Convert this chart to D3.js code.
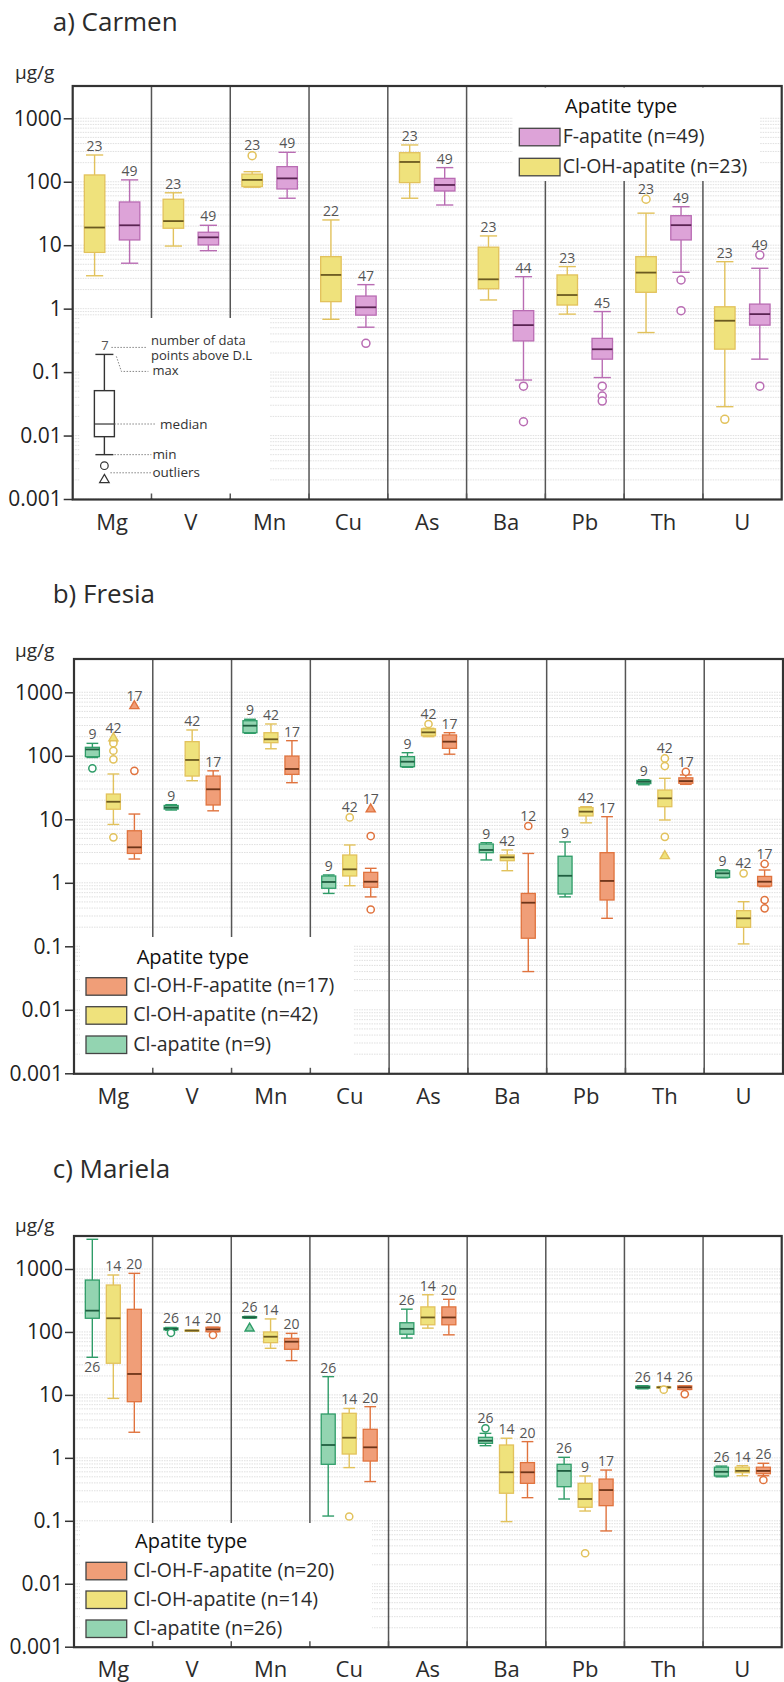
<!DOCTYPE html>
<html>
<head>
<meta charset="utf-8">
<script src="https://cdn.jsdelivr.net/npm/d3@7"></script>
<style>
body{margin:0;background:#fff;}
svg text{font-family:"Open Sans",sans-serif;}
</style>
</head>
<body>
<svg id="chart" width="784" height="1682"></svg>
<script>
let elements = ["Mg","V","Mn","Cu","As","Ba","Pb","Th","U"];
let yTicks = [0.001,0.01,0.1,1,10,100,1000];
let yTickLabels = ["0.001","0.01","0.1","1","10","100","1000"];

// every box is [min, q1, median, q3, max], one per element

// a) Carmen
let carmenClOH = [[3.3,7.7,19,128,264],[9.7,18.5,24,53,67],[82,84,107,132,144],[0.68,1.29,3.4,6.6,25],[55,97,205,287,380],[1.37,2.06,2.9,9.3,14],[0.82,1.14,1.64,3.4,4.6],[0.42,1.81,3.7,6.6,32],[0.0285,0.23,0.645,1.07,5.5]];
let carmenClOHn = [23,23,23,22,23,23,23,23,23];
let carmenClOHcirc = [[],[],[258],[],[],[],[],[53],[0.018]];
let carmenClOHtri = [[],[],[],[],[],[],[],[],[]];

let carmenF = [[5.2,12.1,20.6,48,107],[8.2,10.1,13.3,16,20.6],[55,77,113,173,291],[0.51,0.79,1.05,1.58,2.39],[43,71.5,89,113,167],[0.075,0.31,0.55,0.93,3.19],[0.082,0.16,0.229,0.34,0.9],[3.74,12.1,20.7,29.2,40.4],[0.16,0.55,0.82,1.18,4.33]];
let carmenFn = [49,49,49,47,49,44,45,49,49];
let carmenFcirc = [[],[],[],[0.284],[],[0.06,0.0165],[0.06,0.042,0.035],[2.83,0.93],[7.0,0.06]];
let carmenFtri = [[],[],[],[],[],[],[],[],[]];

// b) Fresia
let fresiaCl = [[94,96.8,126,136,157],[14,14.5,15.3,16.5,17],[226,231,298,357,376],[0.68,0.82,1.03,1.28,1.33],[66,67.4,80.7,97,112],[2.29,2.98,3.29,4.08,4.28],[0.6,0.667,1.29,2.62,4.4],[35,36.5,39,41,42],[1.2,1.22,1.41,1.55,1.6]];
let fresiaCln = [9,9,9,9,9,9,9,9,9];
let fresiaClcirc = [[63.5],[],[],[],[],[],[],[],[]];
let fresiaCltri = [[],[],[],[],[],[],[],[],[]];

let fresiaClOH = [[8.3,14.4,18.9,25,51.7],[40.5,48,86,167,255],[129,161,182,231,317],[0.9,1.28,1.63,2.74,3.94],[200,207,234,266,271],[1.55,2.23,2.52,2.74,3.29],[8.8,11.3,13.2,15.3,15.8],[9.75,15.8,21.4,28.9,44.2],[0.109,0.199,0.276,0.364,0.504]];
let fresiaClOHn = [42,42,42,42,42,42,42,42,42];
let fresiaClOHcirc = [[170,158,120,88,5.2],[],[],[10.7],[317],[],[],[91,69,5.3],[1.41]];
let fresiaClOHtri = [[190],[],[],[],[],[],[],[2.64],[]];

let fresiaClOHF = [[2.37,2.9,3.62,6.6,12.1],[13.6,16.8,29.7,48,58],[37.7,51,62,99,173],[0.6,0.85,1.04,1.46,1.69],[106,131,167,213,231],[0.04,0.134,0.486,0.68,2.9],[0.276,0.536,1.07,2.98,11],[35.5,37,40,45,50],[0.87,0.89,1.04,1.26,1.59]];
let fresiaClOHFn = [17,17,17,17,17,12,17,17,17];
let fresiaClOHFcirc = [[58],[],[],[5.45,0.38],[],[7.84],[],[56],[1.98,0.536,0.396]];
let fresiaClOHFtri = [[608],[],[],[14.4],[],[],[],[],[]];

// c) Mariela
let marielaCl = [[39.6,165,218,668,2965],[106,108,112,116,118],[165,167,171,175,177],[0.119,0.79,1.6,4.97,19.5],[80,92,112,140,230],[1.56,1.70,1.87,2.12,2.45],[0.222,0.348,0.62,0.79,1.02],[12.5,12.8,13.2,13.8,14],[0.5,0.515,0.6,0.71,0.74]];
let marielaCln = [26,26,26,26,26,26,26,26,26];
let marielaClcirc = [[],[97],[],[],[],[2.94],[],[],[]];
let marielaCltri = [[],[],[114],[],[],[],[],[],[]];

let marielaClOH = [[8.8,31.8,165,557,803],[103,103,105,107,107],[55,67.6,84,100,161],[0.7,1.15,2.09,5.1,6.1],[115,130,170,250,390],[0.097,0.274,0.59,1.6,2.05],[0.143,0.164,0.222,0.394,0.515],[12.8,13,13.2,13.4,13.6],[0.52,0.58,0.62,0.71,0.75]];
let marielaClOHn = [14,14,14,14,14,14,9,14,14];
let marielaClOHcirc = [[],[],[],[0.117],[],[],[0.0305],[12.1],[]];
let marielaClOHtri = [[],[],[],[],[],[],[],[],[]];

let marielaClOHF = [[2.55,7.8,21.5,229,853],[101,101,110,118.6,118.6],[35,53,70,79,95],[0.42,0.89,1.47,2.84,6.5],[90,130,170,250,330],[0.233,0.394,0.59,0.84,1.81],[0.069,0.174,0.308,0.46,0.64],[12.2,12.2,13.2,13.9,13.9],[0.52,0.56,0.62,0.71,0.82]];
let marielaClOHFn = [20,20,20,20,20,20,17,26,26];
let marielaClOHFcirc = [[],[89.5],[],[],[],[],[],[10.3],[0.445]];
let marielaClOHFtri = [[],[],[],[],[],[],[],[],[]];

// legend explanation box (drawn in axis units)
let legendExample = [0.005,0.0096,0.0152,0.051,0.19];
let legendOutliers = [0.00335];
let legendTri = [0.002];

let yellow = {fill:"#efe27c", line:"#e2c25c", med:"#6b5a20"};
let pink = {fill:"#dda3d8", line:"#b96cb3", med:"#5a2453"};
let green = {fill:"#93d4b1", line:"#2f9c68", med:"#1f5e40"};
let orange = {fill:"#f09e78", line:"#e0733e", med:"#6e3418"};

let svg = d3.select("#chart");

let panels = [
  {
    title:"a) Carmen", titleY:31, unitY:79,
    left:72.7, right:781.7, top:86, bottom:499.5, yLow:499, yHigh:118.3,
    series:[
      {name:"Cl-OH-apatite (n=23)", stats:carmenClOH, n:carmenClOHn, circ:carmenClOHcirc, tri:carmenClOHtri, col:yellow},
      {name:"F-apatite (n=49)", stats:carmenF, n:carmenFn, circ:carmenFcirc, tri:carmenFtri, col:pink}
    ],
    blanks:[{x0:80,x1:270,y0:318,y1:498},{x0:513,x1:760,y0:87.5,y1:181}],
    legend:{x:519.3, titleX:565, titleY:113.3, rows:[128.3,158.3], textX:562.7, order:[1,0]}
  },
  {
    title:"b) Fresia", titleY:603.3, unitY:657,
    left:74, right:783, top:659, bottom:1073.8, yLow:1073.3, yHigh:692.3,
    series:[
      {name:"Cl-apatite (n=9)", stats:fresiaCl, n:fresiaCln, circ:fresiaClcirc, tri:fresiaCltri, col:green},
      {name:"Cl-OH-apatite (n=42)", stats:fresiaClOH, n:fresiaClOHn, circ:fresiaClOHcirc, tri:fresiaClOHtri, col:yellow},
      {name:"Cl-OH-F-apatite (n=17)", stats:fresiaClOHF, n:fresiaClOHFn, circ:fresiaClOHFcirc, tri:fresiaClOHFtri, col:orange}
    ],
    blanks:[{x0:80,x1:353,y0:937,y1:1072.5}],
    legend:{x:86, titleX:136.7, titleY:964, rows:[977.7,1006.7,1036], textX:133.3, order:[2,1,0]}
  },
  {
    title:"c) Mariela", titleY:1178.3, unitY:1232,
    left:74, right:781.7, top:1236, bottom:1647.2, yLow:1646.7, yHigh:1269,
    series:[
      {name:"Cl-apatite (n=26)", stats:marielaCl, n:marielaCln, circ:marielaClcirc, tri:marielaCltri, col:green},
      {name:"Cl-OH-apatite (n=14)", stats:marielaClOH, n:marielaClOHn, circ:marielaClOHcirc, tri:marielaClOHtri, col:yellow},
      {name:"Cl-OH-F-apatite (n=20)", stats:marielaClOHF, n:marielaClOHFn, circ:marielaClOHFcirc, tri:marielaClOHFtri, col:orange}
    ],
    blanks:[{x0:80,x1:372,y0:1523,y1:1646}],
    legend:{x:86, titleX:135, titleY:1547.7, rows:[1562.3,1591,1620], textX:133.3, order:[2,1,0]}
  }
];

panels.forEach(drawPanel);

function drawPanel(p, pi){
  let g = svg.append("g");
  let x = d3.scaleBand().domain(elements).range([p.left, p.right]);
  let y = d3.scaleLog().domain([0.001,1000]).range([p.yLow, p.yHigh]);
  let two = p.series.length == 2;
  let off = d3.scalePoint().domain(p.series.map(s => s.name)).range(two ? [-17.5,17.5] : [-21,21]);
  let bw = two ? 20.5 : 14;

  // title and unit
  g.append("text").attr("x", 52.7).attr("y", p.titleY)
    .attr("font-size", 26).attr("fill", "#2b2b2b").text(p.title);
  g.append("text").attr("x", 15).attr("y", p.unitY)
    .attr("font-size", 19).attr("fill", "#2b2b2b").text("µg/g");

  // dotted minor grid
  let grid = [];
  for(let e = -3; e < 3; e++){
    for(let m = 1; m < 10; m++) grid.push(m * Math.pow(10, e));
  }
  grid.push(1000);
  g.selectAll(".grid").data(grid).enter().append("line")
    .attr("x1", p.left).attr("x2", p.right)
    .attr("y1", d => y(d)).attr("y2", d => y(d))
    .attr("stroke", "#d2d2d2").attr("stroke-width", 0.7)
    .attr("stroke-dasharray", "1.5,1");

  // separators between elements
  let seps = elements.slice(1);
  g.selectAll(".sep").data(seps).enter().append("line")
    .attr("x1", d => x(d)).attr("x2", d => x(d))
    .attr("y1", p.top).attr("y2", p.bottom)
    .attr("stroke", "#555").attr("stroke-width", 1.5);

  // white areas behind the legends
  p.blanks.forEach(b => {
    g.append("rect").attr("x", b.x0).attr("y", b.y0)
      .attr("width", b.x1 - b.x0).attr("height", b.y1 - b.y0)
      .attr("fill", "#fff");
  });
  g.selectAll(".stick").data(seps).enter().append("line")
    .attr("x1", d => x(d)).attr("x2", d => x(d))
    .attr("y1", p.bottom - 6).attr("y2", p.bottom)
    .attr("stroke", "#555").attr("stroke-width", 1.5);

  // frame
  g.append("rect").attr("x", p.left).attr("y", p.top)
    .attr("width", p.right - p.left).attr("height", p.bottom - p.top)
    .attr("fill", "none").attr("stroke", "#333").attr("stroke-width", 2.2);

  // y axis
  let yAxis = d3.axisLeft(y).tickValues(yTicks)
    .tickFormat((d, i) => yTickLabels[i]).tickSize(9).tickPadding(2);
  let ga = g.append("g").attr("transform", "translate(" + p.left + ",0)").call(yAxis);
  ga.select(".domain").remove();
  ga.selectAll("line").attr("stroke", "#333").attr("stroke-width", 1.5);
  ga.selectAll("text").attr("font-size", 21).attr("fill", "#222")
    .attr("font-family", "Open Sans");

  // x labels
  g.selectAll(".xl").data(elements).enter().append("text")
    .attr("x", d => x(d) + x.bandwidth() / 2)
    .attr("y", p.bottom + 30)
    .attr("text-anchor", "middle").attr("font-size", 22).attr("fill", "#2b2b2b")
    .text(d => d);

  // boxes
  p.series.forEach(s => {
    elements.forEach((el, i) => {
      let st = s.stats[i];
      let cx = x(el) + x.bandwidth() / 2 + off(s.name);
      let bg = g.append("g");
      bg.append("line").attr("x1", cx).attr("x2", cx)
        .attr("y1", y(st[0])).attr("y2", y(st[1]))
        .attr("stroke", s.col.line).attr("stroke-width", 1.4);
      bg.append("line").attr("x1", cx).attr("x2", cx)
        .attr("y1", y(st[3])).attr("y2", y(st[4]))
        .attr("stroke", s.col.line).attr("stroke-width", 1.4);
      [st[0], st[4]].forEach(v => {
        bg.append("line").attr("x1", cx - bw * 0.42).attr("x2", cx + bw * 0.42)
          .attr("y1", y(v)).attr("y2", y(v))
          .attr("stroke", s.col.line).attr("stroke-width", 1.4);
      });
      bg.append("rect").attr("x", cx - bw / 2).attr("y", y(st[3]))
        .attr("width", bw).attr("height", Math.max(1, y(st[1]) - y(st[3])))
        .attr("fill", s.col.fill).attr("stroke", s.col.line).attr("stroke-width", 1.3);
      bg.append("line").attr("x1", cx - bw / 2).attr("x2", cx + bw / 2)
        .attr("y1", y(st[2])).attr("y2", y(st[2]))
        .attr("stroke", s.col.med).attr("stroke-width", 1.8);

      let r = two ? 4 : 3.6;
      bg.selectAll(".oc").data(s.circ[i]).enter().append("circle")
        .attr("cx", cx).attr("cy", d => y(d)).attr("r", r)
        .attr("fill", "#fff").attr("stroke", s.col.line).attr("stroke-width", 1.5);
      bg.selectAll(".ot").data(s.tri[i]).enter().append("path")
        .attr("d", d3.symbol(d3.symbolTriangle).size(36))
        .attr("transform", d => "translate(" + cx + "," + y(d) + ")")
        .attr("fill", s.col.fill).attr("stroke", s.col.line).attr("stroke-width", 1.4);

      // count label on top (or below when it would hit the frame)
      let ly = y(st[4]) - 4;
      s.circ[i].concat(s.tri[i]).forEach(v => { ly = Math.min(ly, y(v) - r - 1.5); });
      if(ly - 12 < p.top) ly = y(st[0]) + 15;
      bg.append("text").attr("x", cx).attr("y", ly)
        .attr("text-anchor", "middle").attr("font-size", 14).attr("fill", "#555")
        .text(s.n[i]);
    });
  });

  // apatite type legend
  let L = p.legend;
  g.append("text").attr("x", L.titleX).attr("y", L.titleY)
    .attr("font-size", 20).attr("fill", "#111").text("Apatite type");
  L.order.forEach((si, k) => {
    let s = p.series[si];
    g.append("rect").attr("x", L.x).attr("y", L.rows[k])
      .attr("width", 40.7).attr("height", 17.5)
      .attr("fill", s.col.fill).attr("stroke", "#444").attr("stroke-width", 1.3);
    g.append("text").attr("x", L.textX).attr("y", L.rows[k] + 14.5)
      .attr("font-size", 19.5).attr("fill", "#2b2b2b").text(s.name);
  });

  if(pi == 0) drawExplain(g, x, y);
}

// the small "how to read a box" key in panel a
function drawExplain(g, x, y){
  let gx = x("Mg") + x.bandwidth() / 2 - 7.7;
  let st = legendExample;
  let k = "#333";
  g.append("line").attr("x1", gx).attr("x2", gx).attr("y1", y(st[0])).attr("y2", y(st[1])).attr("stroke", k).attr("stroke-width", 1.4);
  g.append("line").attr("x1", gx).attr("x2", gx).attr("y1", y(st[3])).attr("y2", y(st[4])).attr("stroke", k).attr("stroke-width", 1.4);
  [st[0], st[4]].forEach(v => {
    g.append("line").attr("x1", gx - 9).attr("x2", gx + 9).attr("y1", y(v)).attr("y2", y(v)).attr("stroke", k).attr("stroke-width", 1.4);
  });
  g.append("rect").attr("x", gx - 10).attr("y", y(st[3])).attr("width", 20)
    .attr("height", y(st[1]) - y(st[3])).attr("fill", "#fff").attr("stroke", k).attr("stroke-width", 1.4);
  g.append("line").attr("x1", gx - 10).attr("x2", gx + 10).attr("y1", y(st[2])).attr("y2", y(st[2])).attr("stroke", k).attr("stroke-width", 1.2);
  g.selectAll(".lc").data(legendOutliers).enter().append("circle")
    .attr("cx", gx).attr("cy", d => y(d)).attr("r", 3.8)
    .attr("fill", "none").attr("stroke", k).attr("stroke-width", 1.2);
  g.selectAll(".lt").data(legendTri).enter().append("path")
    .attr("d", d3.symbol(d3.symbolTriangle).size(40))
    .attr("transform", d => "translate(" + gx + "," + y(d) + ")")
    .attr("fill", "none").attr("stroke", k).attr("stroke-width", 1.2);
  g.append("text").attr("x", gx + 0.7).attr("y", y(st[4]) - 4)
    .attr("text-anchor", "middle").attr("font-size", 13).attr("fill", "#555").text("7");

  let dot = (pts) => g.append("path").attr("d", d3.line()(pts))
    .attr("fill", "none").attr("stroke", "#777").attr("stroke-width", 0.9).attr("stroke-dasharray", "1.5,1.5");
  let yMax = y(st[4]);
  let yOut = (y(legendOutliers[0]) + y(legendTri[0])) / 2;
  dot([[gx + 7, yMax - 7], [gx + 43, yMax - 7]]);
  dot([[gx + 12, yMax + 2], [gx + 17, yMax + 17], [gx + 44, yMax + 17]]);
  dot([[gx + 10, y(st[2])], [gx + 52, y(st[2])]]);
  dot([[gx + 10, y(st[0])], [gx + 47, y(st[0])]]);
  dot([[gx + 6, yOut], [gx + 47, yOut]]);

  // the note and "max" share one text element, one line each
  let note = g.append("text").attr("x", gx + 46.7).attr("y", yMax - 9.5)
    .attr("font-size", 13).attr("fill", "#333");
  note.append("tspan").attr("x", gx + 46.7).text("number of data");
  note.append("tspan").attr("x", gx + 46.7).attr("dy", 15).text("points above D.L");
  note.append("tspan").attr("x", gx + 48).attr("dy", 15.5).text("max");

  let t = (tx, ty, s) => g.append("text").attr("x", tx).attr("y", ty)
    .attr("font-size", 13.5).attr("fill", "#333").text(s);
  t(gx + 55.7, y(st[2]) + 4.5, "median");
  t(gx + 48, y(st[0]) + 4.5, "min");
  t(gx + 48, yOut + 4.5, "outliers");
}
</script>
</body>
</html>
